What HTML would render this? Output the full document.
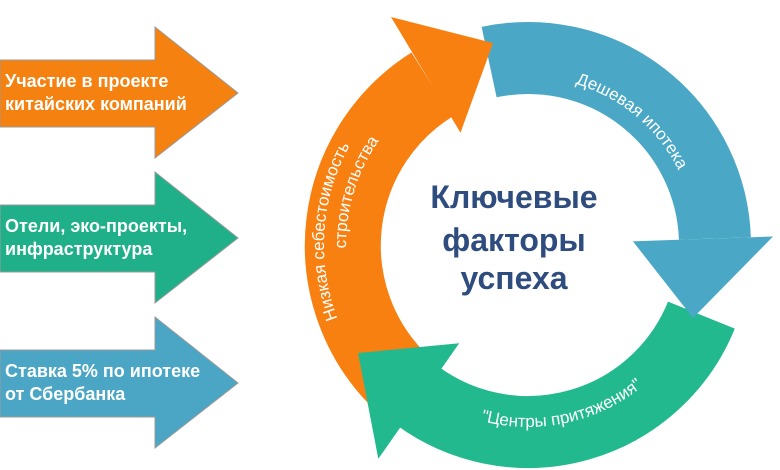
<!DOCTYPE html>
<html><head><meta charset="utf-8"><style>
html,body{margin:0;padding:0;background:#fff;}
svg{display:block;font-family:"Liberation Sans","DejaVu Sans",sans-serif;}
</style></head><body>
<svg width="780" height="470" viewBox="0 0 780 470" xmlns="http://www.w3.org/2000/svg">
<defs>
<path id="pb" d="M 470.5 87.1 A 168 168 0 0 1 693.4 274.2"/>
<path id="pg" d="M 392.8 366.8 A 182 182 0 0 0 701.1 301.2"/>
<path id="po1" d="M 413.9 414.1 A 204 204 0 0 1 438.6 61.6"/>
<path id="po2" d="M 394.9 369.1 A 182 182 0 0 1 487.1 67.7"/>
</defs>
<!-- left arrows -->
<g stroke="#9a9a9a" stroke-width="1">
<polygon points="0,60 155,60 155,27 238,93 155,158 155,127 0,127" fill="#f58110"/>
<polygon points="0,205 155,205 155,172 238,238 155,303 155,272 0,272" fill="#1fb08a"/>
<polygon points="0,350 155,350 155,317 238,383 155,448 155,417 0,417" fill="#4aa6c4"/>
</g>
<g font-weight="bold" font-size="18" fill="#fff">
<text x="5" y="87">Участие в проекте</text>
<text x="5" y="110">китайских компаний</text>
<text x="5" y="232">Отели, эко-проекты,</text>
<text x="5" y="255">инфраструктура</text>
<text x="5" y="377">Ставка 5% по ипотеке</text>
<text x="5" y="400">от Сбербанка</text>
</g>
<!-- ring -->
<path d="M 701.4 315.1 A 187 187 0 0 1 418.1 396.3" fill="none" stroke="#22b98f" stroke-width="72"/>
<path d="M 489.1 62.1 A 187 187 0 0 1 714.9 238.5" fill="none" stroke="#4aa8c6" stroke-width="72"/>
<polygon points="632.9,241.3 773,236.5 693,318" fill="#4aa8c6"/>
<path d="M 395.8 377.2 A 190 190 0 0 1 431.7 84.7" fill="none" stroke="#f88010" stroke-width="76"/>
<polygon points="391,17 460.5,132.7 493,43" fill="#f88010"/>
<path d="M 440 380 A 187 187 0 0 1 418.1 396.3" fill="none" stroke="#22b98f" stroke-width="72"/>
<polygon points="459.2,343.3 378.3,458.8 358,353" fill="#22b98f"/>
<!-- labels -->
<g fill="#fff" font-size="17">
<text><textPath href="#pb" startOffset="50%" text-anchor="middle">Дешевая ипотека</textPath></text>
<text><textPath href="#pg" startOffset="50%" text-anchor="middle">"Центры притяжения"</textPath></text>
<text><textPath href="#po1" startOffset="50%" text-anchor="middle">Низкая себестоимость</textPath></text>
<text><textPath href="#po2" startOffset="50%" text-anchor="middle">строительства</textPath></text>
</g>
<g fill="#2f4c7e" font-weight="bold" font-size="32" text-anchor="middle">
<text x="514" y="208">Ключевые</text>
<text x="514" y="251">факторы</text>
<text x="514" y="289">успеха</text>
</g>
</svg>
</body></html>
